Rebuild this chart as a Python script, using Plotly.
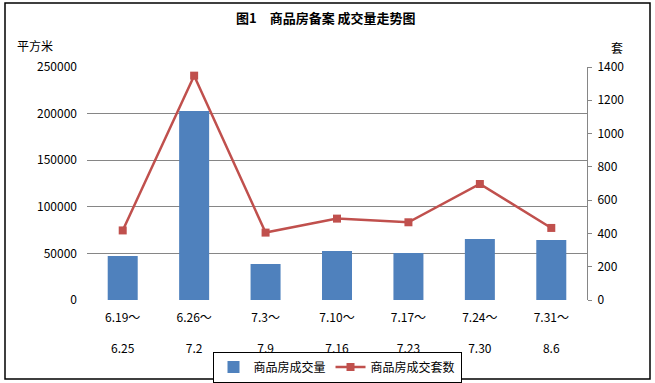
import plotly.graph_objects as go

categories = ["6.19～<br><br>6.25", "6.26～<br><br>7.2", "7.3～<br><br>7.9", "7.10～<br><br>7.16",
              "7.17～<br><br>7.23", "7.24～<br><br>7.30", "7.31～<br><br>8.6"]
area_values = [47200, 202800, 38600, 52600, 50400, 65500, 64400]
unit_counts = [418, 1348, 405, 489, 467, 697, 433]
area_name = "商品房成交量"
count_name = "商品房成交套数"
title_text = "<b>图1　商品房备案 成交量走势图</b>"

FONT = "Noto Sans CJK SC, DejaVu Sans, sans-serif"
W, H = 655, 383
L, R, T, B = 87, 68, 67, 83
pw, ph = W - L - R, H - T - B

def px(x):
    return (x - L) / pw

def py(y):
    return (H - B - y) / ph

fig = go.Figure()
fig.add_trace(go.Bar(x=categories, y=area_values, name=area_name,
                     marker=dict(color="#4F81BD", line=dict(width=0)), width=0.42))
fig.add_trace(go.Scatter(x=categories, y=unit_counts, name=count_name, yaxis="y2",
                         mode="lines+markers",
                         line=dict(color="#C0504D", width=2.5),
                         marker=dict(symbol="square", size=8, color="#C0504D")))

fig.update_layout(
    width=W, height=H,
    margin=dict(l=L, r=R, t=T, b=B, autoexpand=False),
    paper_bgcolor="white", plot_bgcolor="white",
    font=dict(family=FONT, size=12, color="#000000"),
    showlegend=True,
    legend=dict(orientation="h", x=0.5, xanchor="center", y=py(367), yanchor="middle",
                bordercolor="#000000", borderwidth=1, font=dict(size=12),
                tracegroupgap=0, bgcolor="white"),
    xaxis=dict(type="category", range=[-0.5, 6.5], showgrid=False, showline=False,
               ticks="", tickfont=dict(size=12), ticklabelstandoff=9, automargin=False),
    yaxis=dict(range=[0, 250000], dtick=50000, showgrid=True, gridcolor="#868686",
               gridwidth=1, showline=False, ticks="", zeroline=False, automargin=False,
               tickfont=dict(size=12), ticklabelstandoff=9, tickformat="d"),
    yaxis2=dict(range=[0, 1400], dtick=200, overlaying="y", side="right", showgrid=False,
                showline=True, linecolor="#868686", linewidth=1, ticks="outside",
                ticklen=4, tickcolor="#868686", zeroline=False, automargin=False,
                tickfont=dict(size=12), ticklabelstandoff=3),
    bargap=0.58,
    shapes=[dict(type="rect", xref="paper", yref="paper",
                 x0=px(5), x1=px(650), y0=py(379), y1=py(3),
                 line=dict(color="#000000", width=1.5), fillcolor="rgba(0,0,0,0)")],
    annotations=[
        dict(text=title_text, xref="paper", yref="paper", x=px(326), y=py(17),
             xanchor="center", yanchor="middle", showarrow=False, font=dict(size=13)),
        dict(text="平方米", xref="paper", yref="paper", x=px(15), y=py(46),
             xanchor="left", yanchor="middle", showarrow=False, font=dict(size=12)),
        dict(text="套", xref="paper", yref="paper", x=px(617), y=py(48),
             xanchor="center", yanchor="middle", showarrow=False, font=dict(size=12)),
    ],
)

fig.write_html("out.html", config={"displayModeBar": False},
               post_script="document.body.style.margin='0';document.body.style.overflow='hidden';")
